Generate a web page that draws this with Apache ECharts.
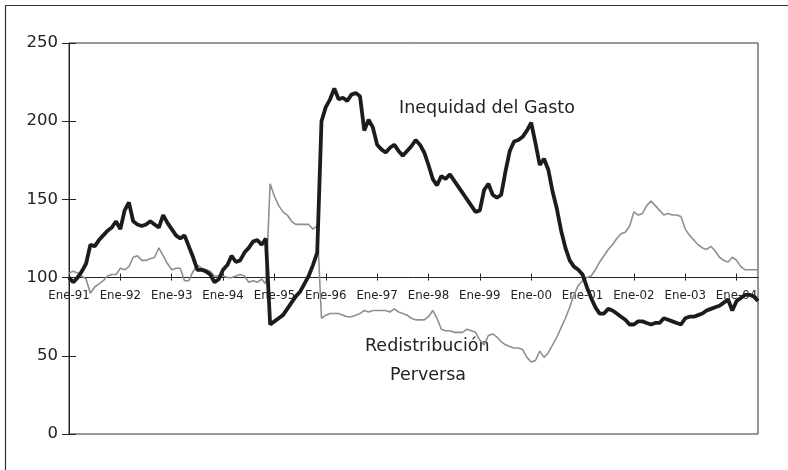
<!DOCTYPE html>
<html>
<head>
<meta charset="utf-8">
<script src="https://cdn.jsdelivr.net/npm/echarts@6/dist/echarts.min.js"></script>
<style>
html, body { margin: 0; padding: 0; background: #fff; }
#chart { width: 788px; height: 470px; }
</style>
</head>
<body>
<div id="chart"></div>
<script>
// meses de ene-1991 a jun-2004
var meses = ['Ene', 'Feb', 'Mar', 'Abr', 'May', 'Jun', 'Jul', 'Ago', 'Sep', 'Oct', 'Nov', 'Dic'];
var anioInicio = 1991;
var totalMeses = 162;

// Inequidad del Gasto (linea negra)
var inequidad = [
  100, 97, 100, 104, 109, 121, 120, 124, 127, 130, 132, 136,
  131, 143, 148, 136, 134, 133, 134, 136, 134, 132, 140, 135,
  131, 127, 125, 127, 120, 113, 105, 105, 104, 102, 97, 99,
  105, 108, 114, 110, 111, 116, 119, 123, 124, 121, 125, 70,
  72, 74, 76, 80, 84, 88, 91, 96, 101, 108, 116, 200,
  209, 214, 221, 214, 215, 213, 217, 218, 216, 194, 201, 196,
  185, 182, 180, 183, 185, 181, 178, 181, 184, 188, 185, 180,
  172, 163, 159, 165, 163, 166, 162, 158, 154, 150, 146, 142,
  143, 156, 160, 153, 151, 153, 168, 181, 187, 188, 190, 194,
  199, 186, 172, 176, 169, 155, 144, 130, 119, 111, 107, 105,
  102, 94, 87, 81, 77, 77, 80, 79, 77, 75, 73, 70,
  70, 72, 72, 71, 70, 71, 71, 74, 73, 72, 71, 70,
  74, 75, 75, 76, 77, 79, 80, 81, 82, 84, 86, 79,
  85, 87, 89, 89, 88, 85
];

// Redistribucion Perversa (linea gris)
var redistribucion = [
  103, 104, 103, 101, 99, 90, 94, 96, 98, 101, 102, 102,
  106, 105, 107, 113, 114, 111, 111, 112, 113, 119, 114, 109,
  105, 106, 106, 98, 98, 104, 108, 106, 105, 104, 101, 101,
  101, 100, 100, 101, 102, 101, 97, 98, 97, 99, 96, 160,
  152, 146, 142, 140, 136, 134, 134, 134, 134, 131, 133, 74,
  76, 77, 77, 77, 76, 75, 75, 76, 77, 79, 78, 79,
  79, 79, 79, 78, 80, 78, 77, 76, 74, 73, 73, 73,
  75, 79, 74, 67, 66, 66, 65, 65, 65, 67, 66, 65,
  60, 57, 63, 64, 62, 59, 57, 56, 55, 55, 54, 49,
  46, 47, 53, 49, 52, 57, 62, 68, 74, 81, 89, 95,
  98, 100, 101, 105, 110, 114, 118, 121, 125, 128, 129, 133,
  142, 140, 141, 146, 149, 146, 143, 140, 141, 140, 140, 139,
  131, 127, 124, 121, 119, 118, 120, 117, 113, 111, 110, 113,
  111, 107, 105, 105, 105, 105
];

var yTicks = [0, 50, 100, 150, 200, 250];

var categorias = [];
for (var k = 0; k < totalMeses; k++) {
  var anio = anioInicio + Math.floor(k / 12);
  categorias.push(meses[k % 12] + '-' + String(anio).slice(2));
}

var fuente = 'DejaVu Sans, Verdana, sans-serif';
var gridTop = 43, gridBottom = 36, alto = 470;
var gridH = alto - gridTop - gridBottom;
var yMax = yTicks[yTicks.length - 1];
// eje x cruza en 100
var offsetX = -(100 / yMax) * gridH;

var chart = echarts.init(document.getElementById('chart'));

var option = {
  animation: false,
  backgroundColor: '#fff',
  grid: {
    left: 69, right: 30, top: gridTop, bottom: gridBottom,
    show: true, borderColor: '#333', borderWidth: 1, backgroundColor: 'transparent'
  },
  xAxis: [
    {
      type: 'category', data: categorias, boundaryGap: false,
      position: 'bottom', offset: offsetX,
      axisLine: { show: true, lineStyle: { color: '#222', width: 1 } },
      axisTick: { show: true, interval: 11, length: 3, lineStyle: { color: '#222' } },
      axisLabel: { interval: 11, margin: 12, fontFamily: fuente, fontSize: 11.8, color: '#222' },
      splitLine: { show: false }
    },
    {
      type: 'category', data: categorias, boundaryGap: false,
      position: 'bottom', offset: offsetX,
      axisLine: { show: false },
      axisTick: { show: true, inside: true, interval: 11, length: 4, lineStyle: { color: '#222' } },
      axisLabel: { show: false },
      splitLine: { show: false }
    }
  ],
  yAxis: [
    {
      type: 'value', min: yTicks[0], max: yMax, interval: 50,
      axisLine: { show: true, lineStyle: { color: '#222', width: 1 } },
      axisTick: { show: true, length: 7, lineStyle: { color: '#222' } },
      axisLabel: { margin: 11, fontFamily: fuente, fontSize: 16.5, color: '#222' },
      splitLine: { show: false }
    },
    {
      type: 'value', min: yTicks[0], max: yMax, interval: 50, position: 'left',
      axisLine: { show: false },
      axisTick: { show: true, inside: true, length: 7, lineStyle: { color: '#222' } },
      axisLabel: { show: false },
      splitLine: { show: false }
    }
  ],
  series: [
    {
      name: 'Redistribución Perversa', type: 'line', data: redistribucion,
      showSymbol: false, symbol: 'none',
      lineStyle: { color: '#8f8f8f', width: 1.6 }
    },
    {
      name: 'Inequidad del Gasto', type: 'line', data: inequidad,
      showSymbol: false, symbol: 'none',
      lineStyle: { color: '#1c1c1c', width: 3.8 }
    }
  ],
  graphic: [
    {
      type: 'rect', silent: true,
      shape: { x: 5.5, y: 5.5, width: 820, height: 520 },
      style: { fill: 'none', stroke: '#333', lineWidth: 1.2 }
    },
    {
      type: 'text', left: 399, top: 99,
      style: { text: 'Inequidad del Gasto', font: '17.5px ' + fuente, fill: '#222' }
    },
    {
      type: 'text', left: 365, top: 337,
      style: { text: 'Redistribución', font: '17.5px ' + fuente, fill: '#222' }
    },
    {
      type: 'text', left: 390, top: 366,
      style: { text: 'Perversa', font: '17.5px ' + fuente, fill: '#222' }
    }
  ]
};

chart.setOption(option);
window.onresize = chart.resize;
</script>
</body>
</html>
